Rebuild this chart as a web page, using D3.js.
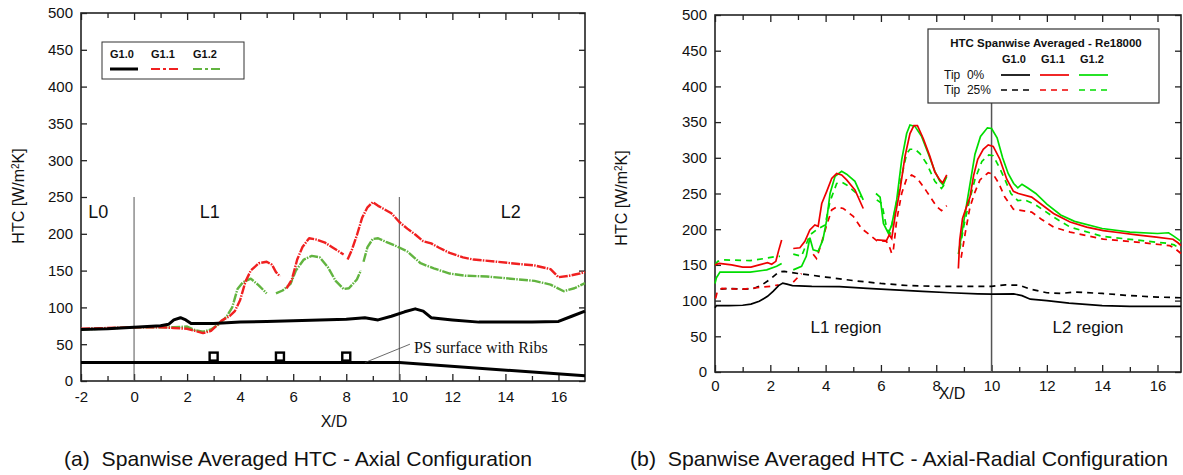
<!DOCTYPE html>
<html>
<head>
<meta charset="utf-8">
<script src="https://cdn.jsdelivr.net/npm/d3@7"></script>
<style>
  body { margin: 0; background: #fff; }
  text { font-family: "Liberation Sans", Arial, Helvetica, sans-serif; fill: #111; }
</style>
</head>
<body>
<svg id="fig" width="1183" height="475"></svg>
<script>
// ---------- data: (a) axial configuration ----------
var leftXTicks = [-2, 0, 2, 4, 6, 8, 10, 12, 14, 16];
var leftYTicks = [0, 50, 100, 150, 200, 250, 300, 350, 400, 450, 500];

var axialG10 = [[-2,70],[-1,71],[0,73],[1,75],[1.3,77],[1.5,83],[1.75,86],[1.95,83],[2.15,78],[3,78],[4,80],[5,81],
  [6,82],[7,83],[8,84],[8.7,86],[9.2,83],[9.7,88],[10.2,94],[10.6,98],[10.9,95],[11.2,86],[12,83],[13,80],[14,80],
  [15,80],[16,81],[16.5,88],[17,95]];
var axialG11 = [[-2,71],[0,73],[1,73],[1.5,72],[2.0,71],[2.3,68],[2.6,65],[2.9,68],[3.1,75],[3.3,82],[3.6,88],
  [3.8,95],[4.0,110],[4.2,135],[4.4,150],[4.7,160],[5.0,162],[5.2,158],[5.35,148],[5.5,142], null,
  [5.75,126],[5.95,138],[6.15,165],[6.35,182],[6.6,194],[6.9,192],[7.2,188],[7.5,181],[7.9,172], null,
  [8.05,165],[8.2,177],[8.4,198],[8.6,222],[8.8,236],[9.0,243],[9.2,238],[9.4,234],[9.7,228],[10.0,216],
  [10.3,207],[10.6,199],[10.9,190],[11.2,187],[11.5,181],[11.9,174],[12.4,168],[12.8,165],[13.7,162],
  [14.5,159],[15.1,157],[15.7,152],[16.0,141],[16.4,143],[16.8,146],[17,148]];
var axialG12 = [[-2,70],[0,73],[1,73],[1.5,73],[2.0,74],[2.3,69],[2.6,67],[2.9,70],[3.2,77],[3.5,88],[3.7,100],
  [3.9,125],[4.1,134],[4.4,139],[4.7,130],[5.0,119], null,
  [5.35,119],[5.6,123],[5.9,132],[6.1,150],[6.4,165],[6.7,170],[7.0,168],[7.3,155],[7.6,136],[7.9,125],
  [8.1,126],[8.4,138],[8.55,150], null,
  [8.65,162],[8.8,182],[9.0,193],[9.2,194],[9.5,189],[9.9,183],[10.3,176],[10.8,160],[11.3,153],[11.9,146],
  [12.5,143],[13.3,142],[14.2,139],[15.1,136],[15.7,131],[16.2,122],[16.6,126],[17,133]];
var ribSurface = [[-2,25],[10,25],[17,7]];
var ribPositions = [3, 5.5, 8];
var axialSeries = ["G1.0", "G1.1", "G1.2"];

// ---------- data: (b) axial-radial configuration ----------
var rightXTicks = [0, 2, 4, 6, 8, 10, 12, 14, 16];
var rightYTicks = [0, 50, 100, 150, 200, 250, 300, 350, 400, 450, 500];

var radG10tip0 = [[0,90],[0.05,93],[0.5,93],[1.0,93.5],[1.3,95],[1.6,99],[1.9,106],[2.1,113],[2.3,121],[2.45,124.5],
  [2.6,123],[2.8,121],[3.5,120],[4.5,119.5],[5.5,117],[6.5,115],[7.5,113],[8.5,111],[9.5,109.5],[10,109],
  [10.8,109.5],[11.1,107],[11.4,102],[12,100],[12.8,96.5],[14,93],[15,92],[16,92],[16.85,92]];
var radG10tip25 = [[0.2,116],[0.5,117],[1,116],[1.4,117],[1.7,122],[2.0,130],[2.3,140],[2.5,141],[3,138],[4,133],
  [5,128],[6,124],[7,121],[8,120],[9,120],[10,120],[10.5,122],[11,121.5],[11.4,116],[12,111],[12.5,110],
  [13,112],[14,110],[15,107],[16,105],[16.85,104]];
var radG11tip0 = [[0,150],[0.15,152],[0.6,150],[1.0,147],[1.3,147],[1.6,150],[1.9,153],[2.05,151],[2.2,155],
  [2.3,170],[2.41,185], null,
  [2.83,173],[3.07,174],[3.25,183],[3.43,199],[3.61,206],[3.73,204],[3.86,236],[4.04,253],[4.22,271],[4.4,278],
  [4.58,276],[4.76,269],[5.06,255],[5.36,229], null,
  [5.85,185],[6.2,184],[6.3,192],[6.39,187],[6.51,218],[6.69,255],[6.87,302],[7.05,334],[7.19,345],[7.32,345],
  [7.53,327],[7.77,302],[7.95,280],[8.13,269],[8.23,265],[8.38,276], null,
  [8.8,145],[8.85,185],[8.95,215],[9.1,232],[9.22,245],[9.35,275],[9.5,298],[9.7,312],[9.88,318],[10.06,316],
  [10.3,298],[10.55,270],[10.79,253],[10.97,250],[11.45,245],[11.76,236],[12.24,222],[12.84,210],[13.44,203],
  [14.04,198],[14.64,195],[15.24,192],[15.96,189],[16.56,186],[16.74,181],[16.85,177]];
var radG12tip0 = [[0,124],[0.05,132],[0.18,140],[1.27,140],[1.87,143],[2.23,148],[2.41,152], null,
  [2.83,143],[3.13,148],[3.3,162],[3.43,188],[3.55,171],[3.73,169],[3.9,185],[4.04,213],[4.16,250],[4.34,274],
  [4.58,281],[4.76,277],[5.06,267],[5.36,241], null,
  [5.82,250],[5.97,245],[6.09,208],[6.27,194],[6.39,206],[6.57,241],[6.75,297],[6.93,334],[7.05,346],
  [7.23,344],[7.47,330],[7.71,306],[7.95,281],[8.13,267],[8.25,262],[8.38,274], null,
  [8.8,165],[8.95,200],[9.1,235],[9.25,270],[9.4,305],[9.6,330],[9.85,342],[10.0,341],[10.2,328],[10.4,300],
  [10.6,278],[10.8,264],[10.95,258],[11.1,263],[11.3,258],[11.6,250],[12.0,235],[12.5,220],[13.0,211],
  [14.0,201],[15.0,196],[16.0,194],[16.4,195],[16.6,190],[16.85,183]];
var radG11tip25 = [[0.02,103],[0.08,112],[0.25,117],[1,116],[1.5,118],[2.0,120],[2.3,122], null,
  [2.83,126],[3.13,138], null,
  [3.55,165],[3.67,159],[3.86,182],[4.04,206],[4.22,227],[4.4,231],[4.64,229],[5.0,218],[5.3,201],[5.66,190],
  [5.85,184],[6.2,183],[6.33,173],[6.39,166],[6.45,171],[6.57,213],[6.75,250],[6.93,271],[7.11,276],[7.32,271],
  [7.65,253],[8.01,232],[8.19,226],[8.38,233], null,
  [8.9,160],[9.05,195],[9.22,231],[9.4,252],[9.58,269],[9.88,279],[10.06,277],[10.25,265],[10.48,245],
  [10.79,228],[11.45,224],[11.8,214],[12.24,203],[12.84,196],[14.04,186],[15.24,182],[16.44,177],[16.6,174],
  [16.85,166]];
var radG12tip25 = [[0,150],[0.1,155],[0.3,157],[1.27,156],[1.8,159],[2.23,162],[2.35,162], null,
  [2.83,165],[3.13,162],[3.43,192],[3.67,199],[3.98,206],[4.16,239],[4.4,264],[4.58,266],[4.76,262],[5.0,254],
  [5.3,245], null,
  [5.85,241],[6.03,236],[6.21,201],[6.33,194],[6.51,227],[6.75,274],[6.93,306],[7.05,312],[7.23,312],
  [7.41,306],[7.65,292],[7.95,267],[8.19,257],[8.38,267], null,
  [8.85,172],[9.0,205],[9.2,240],[9.4,270],[9.65,295],[9.9,304],[10.06,303],[10.3,285],[10.5,268],[10.7,250],
  [10.95,240],[11.2,241],[11.6,234],[12.24,217],[12.84,203],[14.0,190],[15.2,185],[16.4,180],[16.6,178],
  [16.85,172]];
var radialSeries = ["G1.0", "G1.1", "G1.2"];
var tipLabels = ["Tip  0%", "Tip  25%"];

var svg = d3.select("#fig");

// draws frame with inward ticks on all four sides
function drawFrame(g, x, y, xLabels, xMinor, yLabels, pad) {
  var x0 = x.range()[0], x1 = x.range()[1], y0 = y.range()[0], y1 = y.range()[1];
  g.append("g").attr("transform", "translate(0," + y0 + ")")
    .call(d3.axisBottom(x).tickValues(xLabels).tickSize(-7).tickPadding(pad)
      .tickFormat(function (d) { return String(d); }));
  g.append("g").attr("transform", "translate(0," + y0 + ")")
    .call(d3.axisBottom(x).tickValues(xMinor).tickSize(-5).tickFormat(""));
  g.append("g").attr("transform", "translate(0," + y1 + ")")
    .call(d3.axisTop(x).tickValues(xLabels).tickSize(-7).tickFormat(""));
  g.append("g").attr("transform", "translate(0," + y1 + ")")
    .call(d3.axisTop(x).tickValues(xMinor).tickSize(-5).tickFormat(""));
  g.append("g").attr("transform", "translate(" + x0 + ",0)")
    .call(d3.axisLeft(y).tickValues(yLabels).tickSize(-6).tickPadding(8));
  g.append("g").attr("transform", "translate(" + x1 + ",0)")
    .call(d3.axisRight(y).tickValues(yLabels).tickSize(-6).tickFormat(""));
  g.selectAll(".domain").remove();
  g.selectAll(".tick line").attr("stroke", "#222").attr("stroke-width", 1.3);
  g.selectAll(".tick text").style("font-size", "15px").attr("fill", "#111");
  g.append("rect").attr("x", x0).attr("y", y1).attr("width", x1 - x0).attr("height", y0 - y1)
    .attr("fill", "none").attr("stroke", "#222").attr("stroke-width", 1.6);
}

function yTitle(g, cx, cy) {
  var t = g.append("text").attr("transform", "translate(" + cx + "," + cy + ") rotate(-90)")
    .attr("text-anchor", "middle").style("font-size", "16px");
  t.append("tspan").text("HTC [W/m");
  t.append("tspan").attr("baseline-shift", "super").style("font-size", "10px").text("2");
  t.append("tspan").text("K]");
}

// ================= panel (a) =================
var ga = svg.append("g");
var xa = d3.scaleLinear().domain([-2, 17]).range([81, 585]);
var ya = d3.scaleLinear().domain([0, 500]).range([381, 13]);
drawFrame(ga, xa, ya, leftXTicks, d3.range(-1, 17, 2), leftYTicks, 10);

[0, 10].forEach(function (v) {
  ga.append("line").attr("x1", xa(v)).attr("x2", xa(v)).attr("y1", ya(0)).attr("y2", ya(250))
    .attr("stroke", "#555").attr("stroke-width", 1);
});

var lineA = d3.line().defined(function (d) { return d; })
  .x(function (d) { return xa(d[0]); }).y(function (d) { return ya(d[1]); });

ga.append("path").datum(ribSurface).attr("d", lineA).attr("fill", "none")
  .attr("stroke", "#000").attr("stroke-width", 3);
ga.selectAll(".rib").data(ribPositions).enter().append("rect")
  .attr("x", function (d) { return xa(d) - 4; }).attr("y", ya(25) - 10)
  .attr("width", 8).attr("height", 8).attr("fill", "#fff").attr("stroke", "#000").attr("stroke-width", 2.4);
ga.append("line").attr("x1", xa(8.7)).attr("y1", ya(25)).attr("x2", xa(10.4)).attr("y2", ya(50))
  .attr("stroke", "#444").attr("stroke-width", 0.8);
ga.append("text").attr("x", xa(10.55)).attr("y", ya(38)).style("font-family", "'Liberation Serif', 'Times New Roman', serif")
  .style("font-size", "16px").text("PS surface with Ribs");

var styleA = {
  "G1.0": { data: axialG10, color: "#000", width: 3, dash: null },
  "G1.1": { data: axialG11, color: "#f02020", width: 2.4, dash: "9,1.2,1.5,1.2" },
  "G1.2": { data: axialG12, color: "#62b440", width: 2.4, dash: "9,1.2,1.5,1.2" }
};
["G1.2", "G1.1", "G1.0"].forEach(function (k) {
  var s = styleA[k];
  ga.append("path").datum(s.data).attr("d", lineA).attr("fill", "none")
    .attr("stroke", s.color).attr("stroke-width", s.width).attr("stroke-dasharray", s.dash)
    .attr("stroke-linejoin", "round");
});

[["L0", -1.35], ["L1", 2.85], ["L2", 14.2]].forEach(function (d) {
  ga.append("text").attr("x", xa(d[1])).attr("y", ya(222)).attr("text-anchor", "middle")
    .style("font-size", "18px").text(d[0]);
});

// legend (a)
var la = ga.append("g");
la.append("rect").attr("x", 102).attr("y", 42).attr("width", 142).attr("height", 37)
  .attr("fill", "#fff").attr("stroke", "#333").attr("stroke-width", 1);
axialSeries.forEach(function (k, i) {
  var lx = [110, 151, 193][i];
  la.append("text").attr("x", lx).attr("y", 58).style("font-size", "11px").style("font-weight", "bold").text(k);
  la.append("line").attr("x1", lx).attr("x2", lx + 28).attr("y1", 69).attr("y2", 69)
    .attr("stroke", styleA[k].color).attr("stroke-width", k === "G1.0" ? 3 : 2)
    .attr("stroke-dasharray", k === "G1.0" ? null : "9,3,3,3");
});

ga.append("text").attr("x", 334).attr("y", 427).attr("text-anchor", "middle").style("font-size", "16px").text("X/D");
yTitle(ga, 24, 196);

// ================= panel (b) =================
var gb = svg.append("g");
var xb = d3.scaleLinear().domain([0, 16.85]).range([715, 1181]);
var yb = d3.scaleLinear().domain([0, 500]).range([372, 15]);
drawFrame(gb, xb, yb, rightXTicks, d3.range(1, 17, 2), rightYTicks, 8);

gb.append("line").attr("x1", xb(10)).attr("x2", xb(10)).attr("y1", yb(0)).attr("y2", 103)
  .attr("stroke", "#555").attr("stroke-width", 1.5);

var lineB = d3.line().defined(function (d) { return d; })
  .x(function (d) { return xb(d[0]); }).y(function (d) { return yb(d[1]); });

var green = "#00dd00", red = "#ee0000";
var seriesB = [
  { data: radG10tip25, color: "#000", dash: "6,5" },
  { data: radG11tip25, color: red, dash: "6,5" },
  { data: radG12tip25, color: green, dash: "6,5" },
  { data: radG10tip0, color: "#000", dash: null },
  { data: radG12tip0, color: green, dash: null },
  { data: radG11tip0, color: red, dash: null }
];
seriesB.forEach(function (s) {
  gb.append("path").datum(s.data).attr("d", lineB).attr("fill", "none")
    .attr("stroke", s.color).attr("stroke-width", 1.7).attr("stroke-dasharray", s.dash);
});

gb.append("text").attr("x", 846).attr("y", 333).attr("text-anchor", "middle").style("font-size", "17px").text("L1 region");
gb.append("text").attr("x", 1088).attr("y", 333).attr("text-anchor", "middle").style("font-size", "17px").text("L2 region");

// legend (b)
var lb = gb.append("g");
lb.append("rect").attr("x", 928).attr("y", 29).attr("width", 231).attr("height", 74)
  .attr("fill", "#fff").attr("stroke", "#333").attr("stroke-width", 1.2);
lb.append("text").attr("x", 1046).attr("y", 47).attr("text-anchor", "middle")
  .style("font-size", "11.5px").style("font-weight", "bold").text("HTC Spanwise Averaged - Re18000");
var legColors = ["#000", red, green];
radialSeries.forEach(function (k, i) {
  var lx = [1001, 1040, 1079][i];
  lb.append("text").attr("x", lx + 1).attr("y", 63).style("font-size", "11px").style("font-weight", "bold").text(k);
  lb.append("line").attr("x1", lx).attr("x2", lx + 29).attr("y1", 75).attr("y2", 75)
    .attr("stroke", legColors[i]).attr("stroke-width", 1.7);
  lb.append("line").attr("x1", lx).attr("x2", lx + 29).attr("y1", 90).attr("y2", 90)
    .attr("stroke", legColors[i]).attr("stroke-width", 1.7).attr("stroke-dasharray", "6,5");
});
tipLabels.forEach(function (t, i) {
  lb.append("text").attr("x", 944).attr("y", 79 + i * 15).style("font-size", "12px")
    .attr("xml:space", "preserve").style("white-space", "pre").text(t);
});

gb.append("text").attr("x", 952).attr("y", 399).attr("text-anchor", "middle").style("font-size", "16px").text("X/D");
yTitle(gb, 627, 198);

// ---------- captions ----------
svg.append("text").attr("x", 64).attr("y", 466).attr("textLength", 468).attr("lengthAdjust", "spacingAndGlyphs")
  .style("font-size", "21px").attr("xml:space", "preserve").style("white-space", "pre")
  .text("(a)  Spanwise Averaged HTC - Axial Configuration");
svg.append("text").attr("x", 630).attr("y", 466).attr("textLength", 538).attr("lengthAdjust", "spacingAndGlyphs")
  .style("font-size", "21px").attr("xml:space", "preserve").style("white-space", "pre")
  .text("(b)  Spanwise Averaged HTC - Axial-Radial Configuration");
</script>
</body>
</html>
